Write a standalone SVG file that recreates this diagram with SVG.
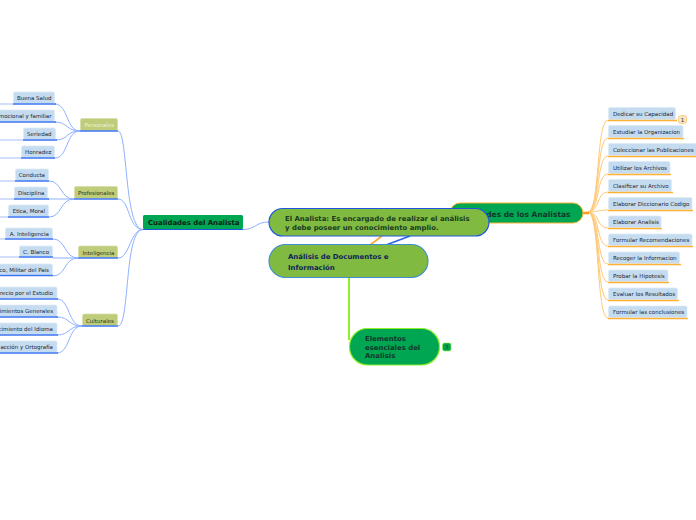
<svg xmlns="http://www.w3.org/2000/svg" width="696" height="520" viewBox="0 0 696 520">
<style>
text{font-family:"DejaVu Sans",Verdana,sans-serif}
.leaf rect{fill:#c5dcf0;stroke:#dbe9f6;stroke-width:.7}
.leaf text{font-size:5.5px;fill:#1a2430}
.lf text{text-anchor:end}
.c path{fill:none}
.bl{stroke:#8fb0ff;stroke-width:1}
.or{stroke:#ffc875;stroke-width:1}
.ulb{stroke:#3d74f5;stroke-width:1.6}
.ulo{stroke:#ffb133;stroke-width:1.6}
.pale{stroke:#c3d3fb;stroke-width:1.4}
.sub rect{fill:#bfcc7a;stroke:#d5dea6;stroke-width:.7}
.sub text{font-size:5.5px;fill:#2a3415}
.main{font-weight:bold}
</style>
<g id="connectors" class="c">
<path class="bl" d="M243 229.500C256 229.500 255 222 269 222"/>
<g class="bl">
<path d="M143 229.500C124 229.500 128 131 118 131"/>
<path d="M143 229.500C128 229.500 130 199 118 199"/>
<path d="M143 229.500C130 229.500 130 258 118 258"/>
<path d="M143 229.500C124 229.500 130 326 118 326"/>
<path d="M80 131C66 131 68 104 55 104"/>
<path d="M80 131C66 131 68 122 55 122"/>
<path d="M80 131C66 131 68 140 56 140"/>
<path d="M80 131C66 131 68 158 55 158"/>
<path d="M74 199C60 199 62 181 49 181"/>
<path d="M74 199L48 199"/>
<path d="M74 199C60 199 62 217 49 217"/>
<path d="M78 258C64 258 66 239 53 239"/>
<path d="M78 258L53 258"/>
<path d="M78 258C64 258 66 276 53 276"/>
<path d="M82 326C68 326 70 299 57 299"/>
<path d="M82 326C68 326 70 317 57 317"/>
<path d="M82 326C68 326 70 335 57 335"/>
<path d="M82 326C68 326 70 353 57 353"/>
</g>
<g class="or">
<path d="M588 212C600 212 596 120 608 120"/>
<path d="M588 212C600 212 596 138 608 138"/>
<path d="M588 212C600 212 596 156 608 156"/>
<path d="M588 212C600 212 596 174 608 174"/>
<path d="M588 212C600 212 596 192 608 192"/>
<path d="M588 212C600 212 596 210 608 210"/>
<path d="M588 212C600 212 596 228 608 228"/>
<path d="M588 212C600 212 596 246 608 246"/>
<path d="M588 212C600 212 596 264 608 264"/>
<path d="M588 212C600 212 596 282 608 282"/>
<path d="M588 212C600 212 596 300 608 300"/>
<path d="M588 212C600 212 596 318 608 318"/>
</g>
<path d="M583 213H589" stroke="#ff9a1a" stroke-width="2.500"/>
<path d="M370 245L382 236" stroke="#ffa733" stroke-width="1.600"/>
<path d="M386 245L410 236" stroke="#2a62ea" stroke-width="1.600"/>
<path d="M349 277V340" stroke="#8fef2a" stroke-width="2"/>
<g class="pale">
<path d="M0 104H13M0 140H23M0 158H21M0 181H15M0 199H14M0 217H8M0 239H5M0 257H19"/>
</g>
</g>

<g id="n-analistas"><rect x="450" y="203" width="133" height="20" rx="10" fill="#00a651" stroke="#ffb133" stroke-width="1"/><text class="main" x="570.500" y="216.500" text-anchor="end" font-size="7.500" fill="#12382a">Cualidades de los Analistas</text></g>
<g id="n-analista"><rect x="269" y="208.500" width="220" height="27.500" rx="13.700" fill="#80ba41" stroke="#1f58e0" stroke-width="1.200"/><text class="main" x="285" y="220.500" font-size="6.930" fill="#173a1e">El Analista: Es encargado de realizar el análisis</text><text class="main" x="285" y="230" font-size="6.930" fill="#173a1e">y debe poseer un conocimiento amplio.</text></g>
<g id="n-root"><rect x="269" y="244.500" width="159" height="33" rx="16.500" fill="#80ba41" stroke="#3f8fd2" stroke-width="1.200"/><text class="main" x="288" y="259" font-size="6.930" fill="#101e5a">Análisis de Documentos e</text><text class="main" x="288" y="270" font-size="6.930" fill="#101e5a">Información</text></g>
<g id="n-elementos"><rect x="349.500" y="328.500" width="90" height="36.500" rx="18" fill="#00a651" stroke="#8ff02a" stroke-width="1.200"/><text class="main" x="365" y="341" font-size="6.930" fill="#12382a">Elementos</text><text class="main" x="365" y="349.500" font-size="6.930" fill="#12382a">esenciales del</text><text class="main" x="365" y="358" font-size="6.930" fill="#12382a">Analisis</text></g>
<g id="badge-3"><rect x="442.500" y="343" width="8.500" height="8" rx="2" fill="#00a651" stroke="#8ff02a" stroke-width=".6"/><text x="446.700" y="349.300" text-anchor="middle" font-size="5.500" fill="#12382a">3</text></g>

<g id="n-cualidades"><rect x="143" y="215" width="100" height="14" rx="1.500" fill="#00a651"/><path d="M143 229.500H243" stroke="#1f58e0" stroke-width="1.200"/><text class="main" x="148" y="225" font-size="6.930" fill="#0c1f16">Cualidades del Analista</text></g>

<g class="sub" id="n-personales"><rect x="80.500" y="118.500" width="37" height="12" rx="1.500"/><path d="M80 131H118" class="ulb"/><text x="84.500" y="127" style="fill:#eef3d6">Personales</text></g>
<g class="sub" id="n-profesionales"><rect x="74.500" y="186.500" width="43" height="12" rx="1.500"/><path d="M74 199H118" class="ulb"/><text x="78" y="195">Profesionales</text></g>
<g class="sub" id="n-inteligencia"><rect x="78.500" y="246" width="39" height="11.500" rx="1.500"/><path d="M78 258H118" class="ulb"/><text x="82.500" y="254.500">Inteligencia</text></g>
<g class="sub" id="n-culturales"><rect x="82.500" y="314" width="35" height="11.500" rx="1.500"/><path d="M82 326H118" class="ulb"/><text x="86" y="322.500">Culturales</text></g>

<g class="leaf lf" id="l1"><rect x="13.500" y="92" width="41" height="11.500" rx="1.500"/><path d="M13 104H56" class="ulb"/><text x="51.500" y="100">Buena Salud</text></g>
<g class="leaf lf" id="l2"><rect x="-2" y="110" width="56.500" height="11.500" rx="1.500"/><path d="M0 122H56" class="ulb"/><text x="51.500" y="118">mocional y familiar</text></g>
<g class="leaf lf" id="l3"><rect x="23.500" y="128" width="32" height="11.500" rx="1.500"/><path d="M23 140H57" class="ulb"/><text x="51.500" y="136">Seriedad</text></g>
<g class="leaf lf" id="l4"><rect x="21.500" y="146" width="33" height="11.500" rx="1.500"/><path d="M21 158H55" class="ulb"/><text x="51.500" y="154">Honradez</text></g>
<g class="leaf lf" id="l5"><rect x="15.500" y="169" width="33" height="11.500" rx="1.500"/><path d="M15 181H49" class="ulb"/><text x="45" y="177">Conducta</text></g>
<g class="leaf lf" id="l6"><rect x="14.500" y="187" width="33" height="11.500" rx="1.500"/><path d="M14 199H49" class="ulb"/><text x="44.500" y="195">Disciplina</text></g>
<g class="leaf lf" id="l7"><rect x="8.500" y="205" width="40" height="11.500" rx="1.500"/><path d="M8 217H49" class="ulb"/><text x="45" y="213">Etica, Moral</text></g>
<g class="leaf lf" id="l8"><rect x="5.500" y="228" width="47" height="10.500" rx="1.500"/><path d="M5 239H53" class="ulb"/><text x="49" y="235.500">A. Inteligencia</text></g>
<g class="leaf lf" id="l9"><rect x="19.500" y="246" width="33" height="10.500" rx="1.500"/><path d="M19 257H53" class="ulb"/><text x="49" y="253.500">C. Blanco</text></g>
<g class="leaf lf" id="l10"><rect x="-2" y="264" width="54.500" height="11" rx="1.500"/><path d="M0 275.500H53" class="ulb"/><text x="49" y="271.500">co, Militar del Pais</text></g>
<g class="leaf lf" id="l11"><rect x="-2" y="287" width="59" height="11.500" rx="1.500"/><path d="M0 299H58" class="ulb"/><text x="53" y="295">recio por el Estudio</text></g>
<g class="leaf lf" id="l12"><rect x="-2" y="305" width="59" height="11.500" rx="1.500"/><path d="M0 317H58" class="ulb"/><text x="53" y="313">imientos Generales</text></g>
<g class="leaf lf" id="l13"><rect x="-2" y="323" width="59" height="11.500" rx="1.500"/><path d="M0 335H58" class="ulb"/><text x="53" y="331">cimiento del Idioma</text></g>
<g class="leaf lf" id="l14"><rect x="-2" y="341" width="59" height="11.500" rx="1.500"/><path d="M0 353H58" class="ulb"/><text x="53" y="349">acción y Ortografía</text></g>

<g class="leaf" id="r1"><rect x="608.500" y="107.500" width="67" height="12" rx="1.500"/><path d="M608 120.500H677" class="ulo"/><text x="613" y="116">Dedicar su Capacidad</text></g>
<g id="badge-1"><rect x="678.500" y="115.500" width="8" height="8" rx="2" fill="#f7e6c4" stroke="#ffc875" stroke-width=".8"/><text x="682.500" y="121.800" text-anchor="middle" font-size="5.500" fill="#1f2a36">1</text></g>
<g class="leaf" id="r2"><rect x="608.500" y="125.500" width="74.500" height="12" rx="1.500"/><path d="M608 138.500H684" class="ulo"/><text x="613" y="134">Estudiar la Organizacion</text></g>
<g class="leaf" id="r3"><rect x="608.500" y="143.500" width="88" height="12" rx="1.500"/><path d="M608 156.500H696" class="ulo"/><text x="613" y="152">Coleccionar las Publicaciones</text></g>
<g class="leaf" id="r4"><rect x="608.500" y="161.500" width="61.500" height="12" rx="1.500"/><path d="M608 174.500H671" class="ulo"/><text x="613" y="170">Utilizar los Archivos</text></g>
<g class="leaf" id="r5"><rect x="608.500" y="179.500" width="63" height="12" rx="1.500"/><path d="M608 192.500H673" class="ulo"/><text x="613" y="188">Clasificar su Archivo</text></g>
<g class="leaf" id="r6"><rect x="608.500" y="197.500" width="83.500" height="12" rx="1.500"/><path d="M608 210.500H693" class="ulo"/><text x="613" y="206">Elaborar Diccionario Codigo</text></g>
<g class="leaf" id="r7"><rect x="608.500" y="216" width="52.500" height="11.500" rx="1.500"/><path d="M608 228.500H662" class="ulo"/><text x="613" y="224">Elaborar Analisis</text></g>
<g class="leaf" id="r8"><rect x="608.500" y="234" width="83.500" height="11.500" rx="1.500"/><path d="M608 246.500H693" class="ulo"/><text x="613" y="242">Formular Recomendaciones</text></g>
<g class="leaf" id="r9"><rect x="608.500" y="252" width="71" height="11.500" rx="1.500"/><path d="M608 264.500H681" class="ulo"/><text x="613" y="260">Recoger la Informacion</text></g>
<g class="leaf" id="r10"><rect x="608.500" y="270" width="59.500" height="11.500" rx="1.500"/><path d="M608 282.500H669" class="ulo"/><text x="613" y="278">Probar la Hipotesis</text></g>
<g class="leaf" id="r11"><rect x="608.500" y="288" width="69" height="11.500" rx="1.500"/><path d="M608 300.500H679" class="ulo"/><text x="613" y="296">Evaluar los Resultados</text></g>
<g class="leaf" id="r12"><rect x="608.500" y="306" width="78.500" height="11.500" rx="1.500"/><path d="M608 318.500H688" class="ulo"/><text x="613" y="314">Formular las conclusiones</text></g>
</svg>
